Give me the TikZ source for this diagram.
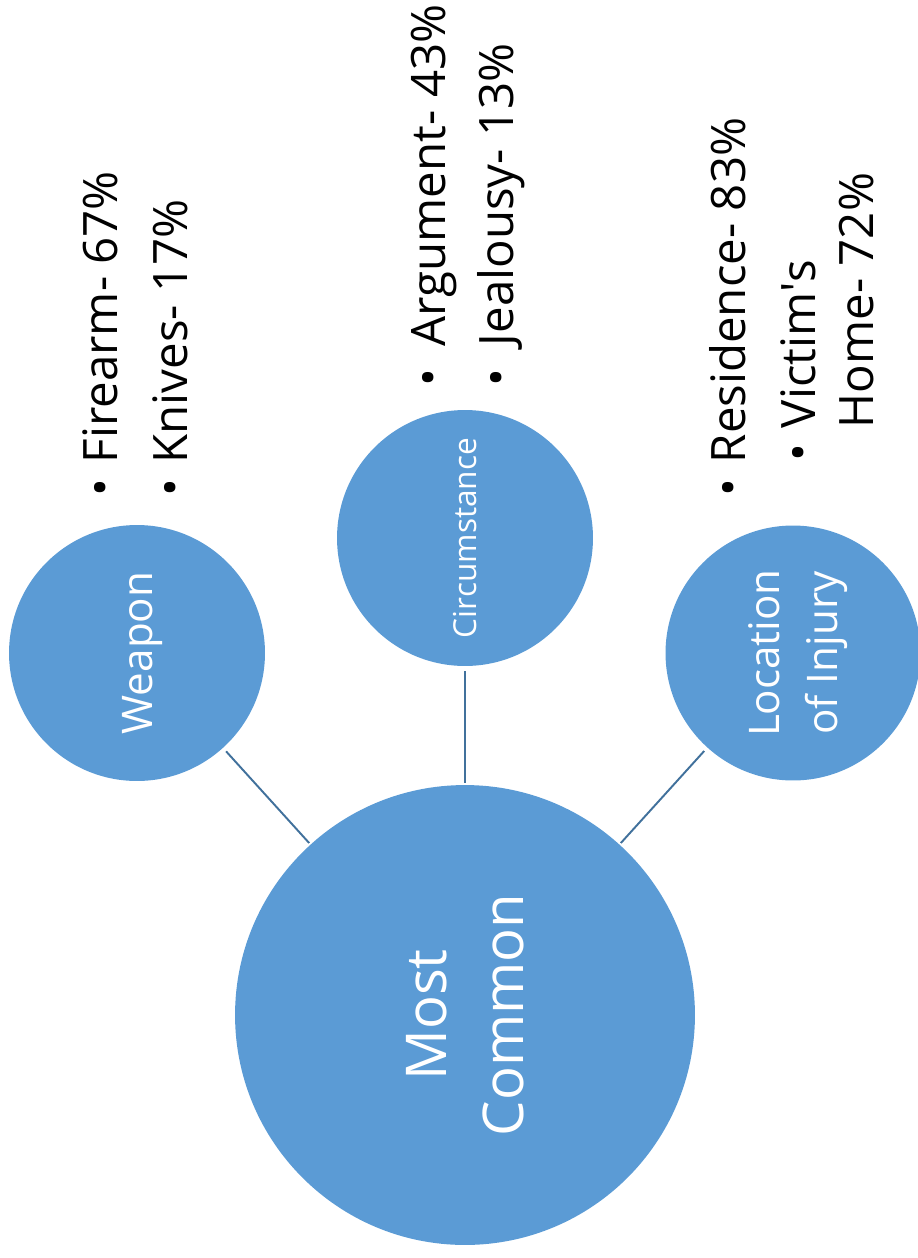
\documentclass[tikz,border=0pt]{standalone}
\usepackage{fontspec}
\setmainfont{Open Sans}

\definecolor{bubbleblue}{HTML}{5B9BD5}
\definecolor{spokeblue}{HTML}{41719C}

\tikzset{
  bubble/.style={circle, fill=bubbleblue, text=white, rotate=90, align=center, inner sep=0pt, text depth=0pt},
  spoke/.style={draw=spokeblue, line width=1.1pt, shorten <=1pt, shorten >=2.5pt},
  notes/.style={rotate=90, anchor=base west, inner sep=0pt, font=\fontsize{27}{33}\selectfont}
}
\newcommand{\bul}[1][19pt]{\makebox[#1][l]{\textbullet}}

\begin{document}
\begin{tikzpicture}[x=0.02cm, y=-0.02cm]
  \useasboundingbox (0,0) rectangle (918,1258);

  %Hub
  \node [bubble, minimum size=9.2cm, font=\fontsize{32}{44}\selectfont] (hub) at (465,1015) {Most\\Common};

  %Categories
  \node [bubble, minimum size=5.12cm, font=\fontsize{24}{33}\selectfont] (weapon) at (137,653) {Weapon};
  \node [bubble, minimum size=5.12cm, font=\fontsize{18}{24}\selectfont] (circum) at (465,538) {Circumstance};
  \node [bubble, minimum size=5.1cm, font=\fontsize{24}{33}\selectfont] (location) at (793,653) {Location\\of Injury};

  %Spokes
  \draw [spoke] (hub) -- (weapon);
  \draw [spoke] (hub) -- (circum);
  \draw [spoke] (hub) -- (location);

  %Lists
  \node [notes] (weaponlist) at (117,497) {\begin{tabular}[t]{@{}l@{}}
      \bul Firearm- 67\%\\[7pt]
      \bul Knives- 17\%
    \end{tabular}};
  \node [notes] (circumlist) at (445,387) {\begin{tabular}[t]{@{}l@{}}
      \bul[16pt] Argument- 43\%\\[6pt]
      \bul[16pt] Jealousy- 13\%
    \end{tabular}};
  \node [notes] (locationlist) at (745,497) {\begin{tabular}[t]{@{}l@{}}
      \bul Residence- 83\%\\[7pt]
      \hspace*{20pt}\bul Victim\textquotesingle s\\
      \hspace*{39pt}Home- 72\%
    \end{tabular}};

\end{tikzpicture}
\end{document}
